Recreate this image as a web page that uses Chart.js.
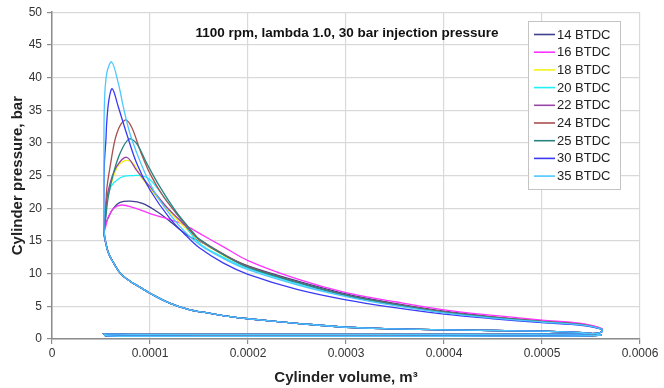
<!DOCTYPE html>
<html>
<head>
<meta charset="utf-8">
<script src="https://cdn.jsdelivr.net/npm/chart.js@4.4.1/dist/chart.umd.min.js"></script>
<style>
  html, body { margin: 0; padding: 0; background: #fff; }
  #pv { display: block; }
</style>
</head>
<body>
<canvas id="pv" width="664" height="388"></canvas>
<script>
// series names, legend order
const labels = ['14 BTDC', '16 BTDC', '18 BTDC', '20 BTDC', '22 BTDC', '24 BTDC', '25 BTDC', '30 BTDC', '35 BTDC'];
const colors = ['#3f3f8f', '#ff33ff', '#f2f21a', '#1ef0f8', '#9a48a8', '#a85050', '#2a8580', '#3a3af5', '#4cc8ff'];

// compression stroke, shared by every series (m3, bar)
const compVol = [5.61e-4, 5.5e-4, 5.3e-4, 5.0e-4, 4.5e-4, 4.0e-4, 3.5e-4, 3.0e-4, 2.5e-4, 2.0e-4, 1.8e-4, 1.6e-4, 1.4e-4, 1.2e-4, 1.0e-4, 9.0e-5, 8.0e-5, 7.0e-5, 6.3e-5, 5.8e-5, 5.5e-5];
const compP = [0.6, 0.85, 1.05, 1.2, 1.3, 1.4, 1.55, 1.8, 2.4, 3.1, 3.45, 3.95, 4.5, 5.5, 7.0, 7.9, 8.8, 10.0, 11.6, 13.0, 14.6];

// combustion part near TDC, one pair per series
const headVol = [
  [5.3e-5, 5.45e-5, 5.75e-5, 6.26e-5, 6.94e-5, 8.0e-5, 9.3e-5, 1.07e-4, 1.17e-4, 1.3e-4, 1.41e-4],
  [5.3e-5, 5.45e-5, 5.75e-5, 6.3e-5, 7.11e-5, 8.3e-5, 1.0e-4, 1.17e-4, 1.3e-4, 1.41e-4],
  [5.3e-5, 5.4e-5, 5.75e-5, 6.3e-5, 6.8e-5, 7.45e-5, 8.2e-5, 9.0e-5, 1.0e-4, 1.14e-4, 1.3e-4],
  [5.3e-5, 5.35e-5, 5.5e-5, 6.0e-5, 6.6e-5, 7.3e-5, 8.3e-5, 9.1e-5, 9.9e-5, 1.1e-4, 1.2e-4, 1.3e-4],
  [5.3e-5, 5.45e-5, 5.58e-5, 5.92e-5, 6.6e-5, 7.62e-5, 8.64e-5, 1.0e-4, 1.17e-4, 1.37e-4],
  [5.3e-5, 5.45e-5, 5.58e-5, 5.92e-5, 6.6e-5, 7.45e-5, 8.13e-5, 8.98e-5, 1.0e-4, 1.136e-4, 1.27e-4, 1.44e-4],
  [5.3e-5, 5.45e-5, 5.75e-5, 6.26e-5, 6.94e-5, 7.86e-5, 8.64e-5, 9.66e-5, 1.1e-4, 1.27e-4, 1.44e-4],
  [5.3e-5, 5.3e-5, 5.35e-5, 5.5e-5, 5.58e-5, 5.8e-5, 6.15e-5, 6.77e-5, 7.62e-5, 8.64e-5, 1.0e-4, 1.2e-4, 1.37e-4],
  [5.3e-5, 5.3e-5, 5.34e-5, 5.58e-5, 6.09e-5, 6.77e-5, 7.28e-5, 7.96e-5, 8.8e-5, 9.83e-5, 1.1e-4, 1.3e-4]
];
const headP = [
  [16.3, 17.5, 18.6, 20.0, 20.9, 21.1, 20.7, 19.5, 18.4, 16.8, 15.6],
  [16.0, 17.0, 18.7, 20.0, 20.5, 20.1, 19.2, 18.4, 17.8, 17.0],
  [16.5, 18.2, 22.0, 25.0, 26.6, 27.3, 27.0, 25.0, 23.0, 20.5, 17.9],
  [16.5, 17.5, 21.0, 23.3, 24.3, 24.9, 25.0, 25.0, 24.5, 22.6, 20.6, 18.6],
  [16.5, 18.2, 21.3, 23.8, 26.4, 27.8, 25.8, 23.3, 20.2, 17.2],
  [16.5, 18.7, 22.8, 26.3, 31.4, 33.5, 32.4, 28.9, 25.3, 21.8, 19.2, 16.1],
  [16.5, 18.2, 21.8, 25.3, 28.4, 30.6, 29.9, 26.9, 23.3, 19.4, 16.3],
  [17.0, 22.0, 27.0, 30.4, 33.0, 36.5, 38.3, 35.5, 31.4, 26.9, 22.8, 18.5, 15.8],
  [17.0, 25.4, 35.5, 40.6, 42.4, 39.1, 35.5, 31.4, 27.9, 24.3, 21.2, 17.3]
];

// expansion tail, shared volumes
const tailVol = [1.5e-4, 1.75e-4, 2.0e-4, 2.5e-4, 3.0e-4, 3.5e-4, 4.0e-4, 4.5e-4, 5.0e-4, 5.4e-4, 5.61e-4];
const tailP = [
  [15.0, 12.9, 11.2, 8.9, 6.9, 5.45, 4.25, 3.4, 2.75, 2.3, 1.55],
  [16.2, 14.1, 12.0, 9.2, 7.1, 5.7, 4.45, 3.6, 2.9, 2.4, 1.6],
  [15.1, 12.8, 10.9, 8.6, 6.65, 5.25, 4.1, 3.3, 2.65, 2.2, 1.5],
  [14.7, 12.5, 10.8, 8.5, 6.6, 5.2, 4.05, 3.25, 2.6, 2.15, 1.5],
  [15.2, 12.9, 11.0, 8.7, 6.7, 5.3, 4.1, 3.3, 2.65, 2.2, 1.5],
  [15.3, 13.0, 11.1, 8.75, 6.75, 5.35, 4.15, 3.35, 2.7, 2.25, 1.5],
  [15.3, 12.9, 11.0, 8.7, 6.7, 5.3, 4.1, 3.3, 2.65, 2.2, 1.5],
  [14.0, 11.6, 9.9, 7.6, 6.0, 4.8, 3.8, 3.1, 2.5, 2.1, 1.5],
  [14.5, 12.3, 10.6, 8.3, 6.5, 5.1, 4.0, 3.2, 2.6, 2.15, 1.5]
];

// exhaust and intake strokes, shared
const exhVol = [5.61e-4, 5.55e-4, 5.3e-4, 4.5e-4, 3.5e-4, 2.5e-4, 1.5e-4, 8.0e-5, 5.3e-5];
const exhP = [1.1, 0.85, 0.75, 0.72, 0.7, 0.7, 0.7, 0.72, 0.75];
const inVol = [5.3e-5, 5.5e-5, 1.0e-4, 2.0e-4, 3.0e-4, 4.0e-4, 5.0e-4, 5.5e-4, 5.61e-4];
const inP = [0.75, 0.5, 0.42, 0.4, 0.4, 0.42, 0.45, 0.5, 0.6];

const xTicks = [0, 0.0001, 0.0002, 0.0003, 0.0004, 0.0005, 0.0006];
const xTickLabels = ['0', '0.0001', '0.0002', '0.0003', '0.0004', '0.0005', '0.0006'];

const chartTitle = '1100 rpm, lambda 1.0, 30 bar injection pressure';
const fontFamily = '"Liberation Sans", Arial, sans-serif';

const zip = (vols, ps) => vols.map((v, i) => ({ x: v, y: ps[i] }));

const datasets = labels.map((label, i) => ({
  label: label,
  data: [
    ...zip(compVol, compP),
    ...zip(headVol[i], headP[i]),
    ...zip(tailVol, tailP[i]),
    ...zip(exhVol, exhP),
    ...zip(inVol, inP)
  ],
  borderColor: colors[i],
  backgroundColor: colors[i],
  borderWidth: 1.3,
  pointRadius: 0,
  showLine: true,
  tension: 0.35,
  order: labels.length - i
}));

// title and legend sit inside the plot area
const overlay = {
  id: 'overlay',
  afterDraw(chart) {
    const ctx = chart.ctx;
    const area = chart.chartArea;
    ctx.save();
    ctx.font = 'bold 13.5px ' + fontFamily;
    ctx.fillStyle = '#111';
    ctx.textAlign = 'center';
    ctx.textBaseline = 'middle';
    ctx.fillText(chartTitle, (area.left + area.right) / 2 + 1, 33);

    const bx = 528, by = 21, bw = 92, bh = 168;
    ctx.fillStyle = '#fff';
    ctx.fillRect(bx, by, bw, bh);
    ctx.strokeStyle = '#c4c4c4';
    ctx.lineWidth = 1;
    ctx.strokeRect(bx + 0.5, by + 0.5, bw, bh);
    ctx.font = '13px ' + fontFamily;
    ctx.textAlign = 'left';
    chart.data.datasets.forEach((ds, i) => {
      const y = 34.5 + i * 17.7;
      ctx.strokeStyle = ds.borderColor;
      ctx.lineWidth = 1.6;
      ctx.beginPath();
      ctx.moveTo(534, y);
      ctx.lineTo(555, y);
      ctx.stroke();
      ctx.fillStyle = '#222';
      ctx.fillText(ds.label, 557, y + 0.5);
    });
    ctx.restore();
  }
};

new Chart(document.getElementById('pv'), {
  type: 'scatter',
  data: { datasets: datasets },
  options: {
    responsive: false,
    animation: false,
    devicePixelRatio: 1,
    layout: { padding: { top: 12, right: 24, left: 0, bottom: 0 } },
    plugins: {
      legend: { display: false },
      tooltip: { enabled: false }
    },
    scales: {
      x: {
        type: 'linear',
        min: 0,
        max: 0.0006,
        afterFit: (scale) => { scale.height = 49; },
        afterBuildTicks: (scale) => { scale.ticks = xTicks.map((v) => ({ value: v })); },
        ticks: {
          padding: 2,
          color: '#333',
          font: { family: fontFamily, size: 12 },
          maxRotation: 0,
          callback: (value, index) => xTickLabels[index]
        },
        grid: { color: '#d9d9d9', lineWidth: 1.2, tickLength: 5, tickColor: '#8c8c8c' },
        border: { color: '#8c8c8c', width: 1.5 },
        title: {
          display: true,
          text: 'Cylinder volume, m³',
          color: '#222',
          font: { family: fontFamily, size: 15, weight: 'bold' },
          padding: { top: 0, bottom: 1 }
        }
      },
      y: {
        min: 0,
        max: 50,
        afterFit: (scale) => { scale.width = 52; },
        ticks: {
          stepSize: 5,
          padding: 5,
          color: '#333',
          font: { family: fontFamily, size: 12 }
        },
        grid: { color: '#d9d9d9', lineWidth: 1.2, tickLength: 5, tickColor: '#8c8c8c' },
        border: { color: '#8c8c8c', width: 1.5 },
        title: {
          display: true,
          text: 'Cylinder pressure, bar',
          color: '#222',
          font: { family: fontFamily, size: 15, weight: 'bold' },
          padding: { top: 9, bottom: 0 }
        }
      }
    }
  },
  plugins: [overlay]
});
</script>
</body>
</html>
